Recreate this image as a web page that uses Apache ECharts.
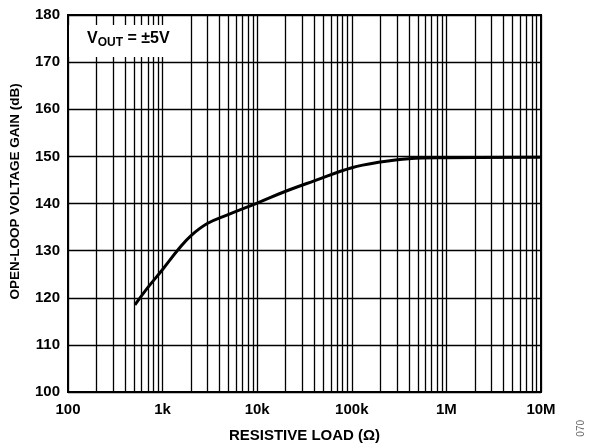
<!DOCTYPE html>
<html><head><meta charset="utf-8">
<script src="https://cdn.jsdelivr.net/npm/echarts@6/dist/echarts.min.js"></script>
<style>html,body{margin:0;padding:0;background:#fff}#c{width:593px;height:448px}</style>
</head><body><div id="c"></div>
<script>
const loadOhms = [510, 700, 1000, 1500, 2000, 3000, 5000, 10000, 20000, 40000, 100000, 200000, 400000, 1000000, 10000000];
const gainDb   = [118.5, 122.2, 126.0, 130.5, 133.2, 135.8, 137.7, 140.1, 142.6, 144.8, 147.6, 148.8, 149.5, 149.7, 149.8];
const minorGridOhms = [];
[100, 1000, 10000, 100000, 1000000].forEach(d => { for (let m = 2; m <= 9; m++) minorGridOhms.push(d * m); });
const xTickLabels = {100: '100', 1000: '1k', 10000: '10k', 100000: '100k', 1000000: '1M', 10000000: '10M'};
const yMin = 100, yMax = 180, yStep = 10;

const font = '"Liberation Sans", Arial, sans-serif';
const chart = echarts.init(document.getElementById('c'));
chart.setOption({
  animation: false,
  grid: {left: 68, right: 52, top: 15, bottom: 55, show: true, borderColor: '#000', borderWidth: 2, backgroundColor: 'transparent'},
  title: {
    text: '{a|V}{b|OUT}{a| = ±5V}',
    left: 69, top: 23, padding: [6, 9, 8, 18], backgroundColor: '#fff',
    textStyle: {rich: {
      a: {fontFamily: font, fontWeight: 'bold', fontSize: 16, color: '#000'},
      b: {fontFamily: font, fontWeight: 'bold', fontSize: 12, color: '#000', padding: [8, 0, 0, 0]}
    }}
  },
  xAxis: {
    type: 'log', logBase: 10, min: 100, max: 10000000,
    name: 'RESISTIVE LOAD (Ω)', nameLocation: 'middle', nameGap: 36,
    nameTextStyle: {fontFamily: font, fontWeight: 'bold', fontSize: 15, color: '#000'},
    axisLine: {show: true, lineStyle: {color: '#000', width: 2}},
    axisTick: {show: false},
    axisLabel: {margin: 10, fontFamily: font, fontWeight: 'bold', fontSize: 15, color: '#000',
      formatter: v => xTickLabels[Math.round(v)] || ''},
    splitLine: {show: true, lineStyle: {color: '#000', width: 1.3}}
  },
  yAxis: {
    type: 'value', min: yMin, max: yMax, interval: yStep,
    name: 'OPEN-LOOP VOLTAGE GAIN (dB)', nameLocation: 'middle', nameGap: 46,
    nameTextStyle: {fontFamily: font, fontWeight: 'bold', fontSize: 13.5, color: '#000', padding: [0, 0, 0, 24]},
    axisLine: {show: true, lineStyle: {color: '#000', width: 2}},
    axisTick: {show: false},
    axisLabel: {margin: 8, fontFamily: font, fontWeight: 'bold', fontSize: 15, color: '#000'},
    splitLine: {show: true, lineStyle: {color: '#000', width: 1.3}}
  },
  graphic: [{type: 'text', left: 576, top: 420, rotation: Math.PI / 2,
    style: {text: '070', fontFamily: font, fontSize: 10, fill: '#666'}}],
  series: [{
    type: 'line', data: [], silent: true,
    markLine: {silent: true, symbol: 'none', label: {show: false}, animation: false,
      lineStyle: {color: '#000', width: 1.3, type: 'solid'},
      data: minorGridOhms.map(v => ({xAxis: v}))}
  }, {
    type: 'line', smooth: 0.4, symbol: 'none', z: 5,
    lineStyle: {color: '#000', width: 3},
    data: loadOhms.map((x, i) => [x, gainDb[i]])
  }]
});
</script></body></html>
